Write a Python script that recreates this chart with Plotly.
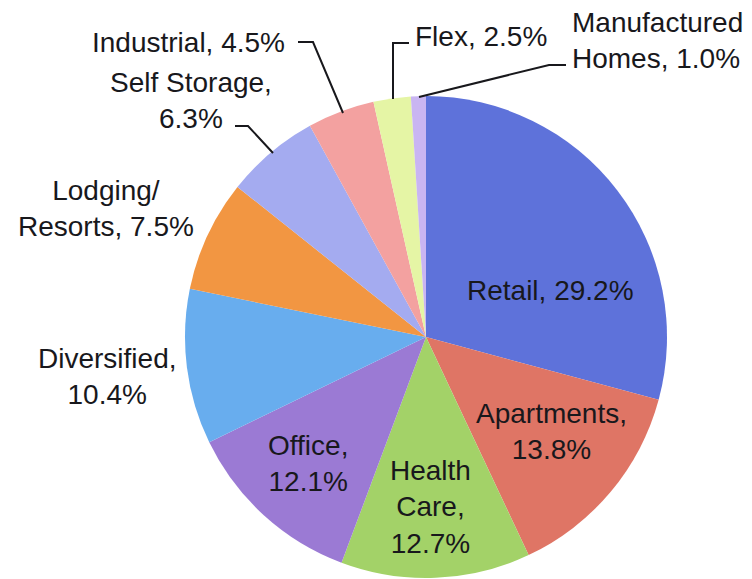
import plotly.graph_objects as go

# Property-type breakdown (percent of total)
categories = ["Retail", "Apartments", "Health Care", "Office", "Diversified",
              "Lodging/Resorts", "Self Storage", "Industrial", "Flex",
              "Manufactured Homes"]
shares = [29.2, 13.8, 12.7, 12.1, 10.4, 7.5, 6.3, 4.5, 2.5, 1.0]
colors = ["#5e72da", "#df7565", "#a3d268", "#9b7ad4", "#68adee",
          "#f29642", "#a4abf0", "#f3a1a0", "#e5f5a5", "#c9b5f2"]

# How each label is broken across lines ({v} is replaced by the share)
label_formats = ["Retail, {v}%", "Apartments,<br>{v}%", "Health<br>Care,<br>{v}%",
                 "Office,<br>{v}%", "Diversified,<br>{v}%", "Lodging/<br>Resorts, {v}%",
                 "Self Storage,<br>{v}%", "Industrial, {v}%", "Flex, {v}%",
                 "Manufactured<br>Homes, {v}%"]

W, H = 752, 579

# label anchor (pixel centre) and alignment
label_pos = [(550, 290, "center"), (551, 431, "center"), (431, 507, "center"),
             (308, 463, "center"), (107, 376, "center"), (106, 208, "center"),
             (191, 100, "center"), (188, 42, "center"), (481, 36, "center"),
             (660, 41, "left")]

# leader lines for the small outside labels (pixel polylines)
leaders = [
    [(298, 42), (313, 42), (343, 113)],       # Industrial
    [(235, 126), (248, 126), (273, 153)],     # Self Storage
    [(409, 43), (393, 43), (393, 99)],        # Flex
    [(566, 65), (549, 65), (419, 97)],        # Manufactured Homes
]

fig = go.Figure(go.Pie(
    labels=categories,
    values=shares,
    sort=False,
    direction="clockwise",
    rotation=0,
    marker=dict(colors=colors, line=dict(width=0)),
    textinfo="none",
    hoverinfo="label+percent",
    showlegend=False,
    domain=dict(x=[185 / W, 667 / W], y=[1 - 578 / H, 1 - 96 / H]),
))

font = dict(family="Liberation Sans, Arial, Helvetica, sans-serif", size=28, color="#18181c")

annotations = []
for fmt, v, (px, py, al) in zip(label_formats, shares, label_pos):
    txt = fmt.format(v=f"{v:.1f}")
    if al == "left":
        annotations.append(dict(x=570 / W, y=1 - py / H, xref="paper", yref="paper",
                                text=txt, showarrow=False, font=font, align="left",
                                xanchor="left", yanchor="middle"))
    else:
        annotations.append(dict(x=px / W, y=1 - py / H, xref="paper", yref="paper",
                                text=txt, showarrow=False, font=font, align="center",
                                xanchor="center", yanchor="middle"))

shapes = []
for pts in leaders:
    path = "M " + " L ".join(f"{x / W:.5f},{1 - y / H:.5f}" for x, y in pts)
    shapes.append(dict(type="path", path=path, xref="paper", yref="paper",
                       line=dict(color="#18181c", width=2)))

fig.update_layout(
    width=W, height=H,
    margin=dict(l=0, r=0, t=0, b=0),
    paper_bgcolor="white",
    plot_bgcolor="white",
    annotations=annotations,
    shapes=shapes,
)

fig.write_html("out.html")
